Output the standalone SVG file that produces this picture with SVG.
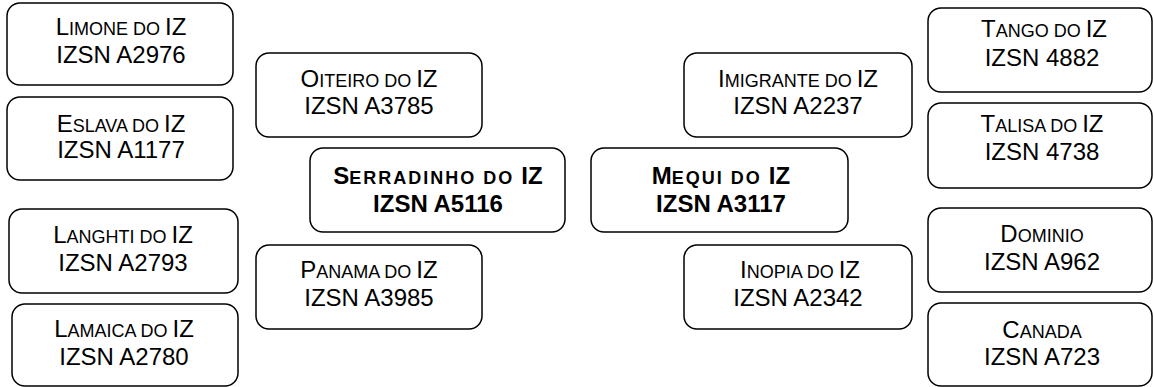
<svg xmlns="http://www.w3.org/2000/svg" width="1153" height="387" viewBox="0 0 1153 387">
<style>
.box{fill:#fff;stroke:#000;stroke-width:1.5}
text{font-family:"Liberation Sans",Arial,sans-serif;font-size:24px;fill:#000;text-anchor:middle}
.sc{font-size:18px}
.b{font-weight:bold}
.b .sc{letter-spacing:2px}
</style>
<rect width="1153" height="387" fill="#fff"/>
<g id="connectors"></g>
<g id="limone"><rect class="box" x="7" y="3" width="226" height="82" rx="13"/>
<text x="121" y="35"><tspan>L</tspan><tspan class="sc">IMONE DO </tspan><tspan>IZ</tspan></text>
<text x="121" y="63">IZSN A2976</text></g>
<g id="eslava"><rect class="box" x="7" y="97" width="226" height="83" rx="13"/>
<text x="121" y="132"><tspan>E</tspan><tspan class="sc">SLAVA DO </tspan><tspan>IZ</tspan></text>
<text x="121" y="158">IZSN A1177</text></g>
<g id="langhti"><rect class="box" x="9" y="209" width="229" height="84" rx="13"/>
<text x="123" y="243"><tspan>L</tspan><tspan class="sc">ANGHTI DO </tspan><tspan>IZ</tspan></text>
<text x="123" y="271">IZSN A2793</text></g>
<g id="lamaica"><rect class="box" x="12" y="304" width="226" height="82" rx="13"/>
<text x="124" y="337"><tspan>L</tspan><tspan class="sc">AMAICA DO </tspan><tspan>IZ</tspan></text>
<text x="124" y="365">IZSN A2780</text></g>
<g id="oiteiro"><rect class="box" x="256" y="53" width="226" height="84" rx="13"/>
<text x="369" y="87"><tspan>O</tspan><tspan class="sc">ITEIRO DO </tspan><tspan>IZ</tspan></text>
<text x="369" y="114">IZSN A3785</text></g>
<g id="serradinho"><rect class="box" x="310" y="148" width="255" height="84" rx="13"/>
<text class="b" x="438" y="184"><tspan>S</tspan><tspan class="sc">ERRADINHO DO </tspan><tspan>IZ</tspan></text>
<text class="b" x="438" y="212">IZSN A5116</text></g>
<g id="panama"><rect class="box" x="256" y="245" width="226" height="84" rx="13"/>
<text x="369" y="278"><tspan>P</tspan><tspan class="sc">ANAMA DO </tspan><tspan>IZ</tspan></text>
<text x="369" y="306">IZSN A3985</text></g>
<g id="imigrante"><rect class="box" x="684" y="53" width="228" height="84" rx="13"/>
<text x="798" y="87"><tspan>I</tspan><tspan class="sc">MIGRANTE DO </tspan><tspan>IZ</tspan></text>
<text x="798" y="114">IZSN A2237</text></g>
<g id="mequi"><rect class="box" x="591" y="148" width="257" height="84" rx="13"/>
<text class="b" x="721" y="184"><tspan>M</tspan><tspan class="sc">EQUI DO </tspan><tspan>IZ</tspan></text>
<text class="b" x="721" y="212">IZSN A3117</text></g>
<g id="inopia"><rect class="box" x="684" y="245" width="228" height="84" rx="13"/>
<text x="800" y="278"><tspan>I</tspan><tspan class="sc">NOPIA DO </tspan><tspan>IZ</tspan></text>
<text x="798" y="306">IZSN A2342</text></g>
<g id="tango"><rect class="box" x="928" y="8" width="224" height="84" rx="13"/>
<text x="1044" y="37"><tspan>T</tspan><tspan class="sc">ANGO DO </tspan><tspan>IZ</tspan></text>
<text x="1042" y="66">IZSN 4882</text></g>
<g id="talisa"><rect class="box" x="928" y="103" width="224" height="85" rx="13"/>
<text x="1042" y="132"><tspan>T</tspan><tspan class="sc">ALISA DO </tspan><tspan>IZ</tspan></text>
<text x="1042" y="160">IZSN 4738</text></g>
<g id="dominio"><rect class="box" x="928" y="208" width="224" height="84" rx="13"/>
<text x="1042" y="242"><tspan>D</tspan><tspan class="sc">OMINIO</tspan></text>
<text x="1042" y="270">IZSN A962</text></g>
<g id="canada"><rect class="box" x="928" y="303" width="224" height="83" rx="13"/>
<text x="1042" y="338"><tspan>C</tspan><tspan class="sc">ANADA</tspan></text>
<text x="1042" y="365">IZSN A723</text></g>
</svg>
